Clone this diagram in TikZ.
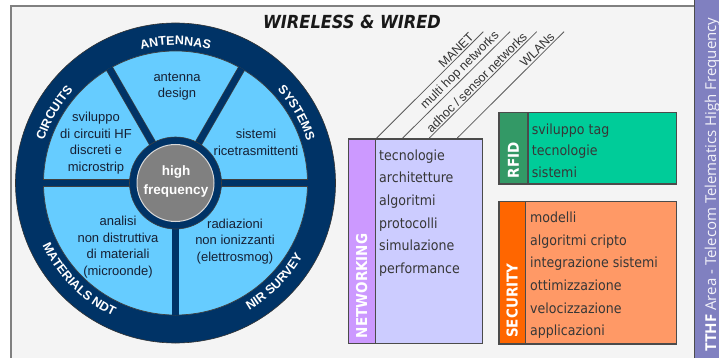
\documentclass[tikz,border=0pt]{standalone}
\usepackage{fontspec}
\setmainfont{Liberation Sans}
\newfontfamily\boxfont[FakeStretch=0.9]{DejaVu Sans}
\newfontfamily\stripfont{Open Sans}
\usetikzlibrary{decorations.text}

\definecolor{panelbg}{RGB}{244,244,244}
\definecolor{panelline}{RGB}{128,128,128}
\definecolor{navy}{RGB}{0,51,102}
\definecolor{skyfill}{RGB}{102,204,255}
\definecolor{hubgray}{RGB}{128,128,128}
\definecolor{segtext}{RGB}{22,32,52}
\definecolor{netstrip}{RGB}{204,153,255}
\definecolor{netbody}{RGB}{204,204,255}
\definecolor{rfidstrip}{RGB}{51,153,102}
\definecolor{rfidbody}{RGB}{0,204,153}
\definecolor{secstrip}{RGB}{255,102,0}
\definecolor{secbody}{RGB}{255,153,102}
\definecolor{sidebar}{RGB}{128,128,192}
\definecolor{boxline}{RGB}{75,75,75}
\definecolor{itemtext}{RGB}{55,55,55}
\definecolor{tagline}{RGB}{90,90,90}

\newcommand{\ringfont}{\color{white}\bfseries\fontsize{12.5}{13}\selectfont}

\tikzset{
  seg/.style={align=center, font=\fontsize{13}{16.5}\selectfont, text=segtext, inner sep=0pt},
  hubtext/.style={align=center, font=\bfseries\fontsize{13.5}{19}\selectfont, text=white, inner sep=0pt},
  spoke/.style={draw=black!75, line width=0.7pt, double=navy, double distance=6.2pt},
  panelbox/.style={draw=boxline, line width=1.2pt, inner sep=0pt, anchor=north west},
  sidelabel/.style={font=\boxfont\bfseries\fontsize{15}{15}\selectfont, text=white, inner sep=0pt, rotate=90, anchor=west},
  item/.style={font=\boxfont\fontsize{14}{14}\selectfont, text=itemtext, inner sep=0pt, anchor=base west},
  tagline/.style={draw=tagline, line width=0.8pt},
  taglabel/.style={font=\fontsize{12.5}{13}\selectfont, text=black!80, sloped, anchor=south east, inner sep=1.2pt},
  ringlabel/.style={decorate, decoration={text along path, text align=center, text={|\ringfont|#1}}},
}

\begin{document}
\begin{tikzpicture}[x=1pt,y=-1pt]
\useasboundingbox (0,0) rectangle (719,358);

% background panel and side bar
\fill[panelbg] (10,6) rectangle (694,358);
\draw[panelline, line width=2pt] (11,358) -- (11,6) -- (694,6);
\fill[sidebar] (694,0) rectangle (719,358);
\draw[black!70, line width=1pt] (694,0) -- (694,358);

% title
\node[font=\boxfont\bfseries\itshape\fontsize{18}{20}\selectfont, text=black!90, inner sep=0pt] (title) at (352,21.5) {WIRELESS \& WIRED};

% the wheel
\begin{scope}[shift={(175.5,183)}, y=1pt]
  \path[fill=navy, draw=black!80, line width=0.6pt] (0,0) circle[radius=160];
  \path[fill=skyfill, draw=black!75, line width=0.7pt] (0,0) circle[radius=132];
  \draw[spoke] (180:132.3) -- (0:132.3);
  \foreach \a in {60,120,270} \draw[spoke] (0,0) -- (\a:132.3);
  \path[fill=navy, draw=black!75, line width=0.6pt] (0,0) circle[radius=46];
  \path[fill=hubgray, draw=white!70!gray, line width=1pt] (0,0) circle[radius=38.5];
  % labels on the ring
  \path[ringlabel=ANTENNAS] (125:138) arc[start angle=125, end angle=55, radius=138];
  \path[ringlabel=CIRCUITS] (185:138) arc[start angle=185, end angle=115, radius=138];
  \path[ringlabel=SYSTEMS] (65:138) arc[start angle=65, end angle=-5, radius=138];
  \path[ringlabel=MATERIALS NDT] (185:147) arc[start angle=185, end angle=265, radius=147];
  \path[ringlabel=NIR SURVEY] (275:147) arc[start angle=275, end angle=355, radius=147];
\end{scope}

% wheel sector texts
\node[seg] (antenna) at (177,86.5) {antenna\\design};
\node[seg] (sistemi) at (256,142.5) {sistemi\\ricetrasmittenti};
\node[seg] (circuiti) at (96,143) {sviluppo\\di circuiti HF\\discreti e\\microstrip};
\node[seg] (analisi) at (118,247) {analisi\\non distruttiva\\di materiali\\(microonde)};
\node[seg] (radiazioni) at (235,241.5) {radiazioni\\non ionizzanti\\(elettrosmog)};
\node[hubtext] (hub) at (176,182) {high\\frequency};

% networking box
\node[panelbox, fill=netbody, minimum width=134pt, minimum height=204.5pt] (net) at (347.5,138.5) {};
\node[panelbox, fill=netstrip, minimum width=27pt, minimum height=204.5pt] (netside) at (net.north west) {};
\node[sidelabel] (netlabel) at ([yshift=6pt]netside.south) {NETWORKING};
\foreach \t [count=\i] in {tecnologie,architetture,algoritmi,protocolli,simulazione,performance}
  \node[item] (net-\i) at (379,{160.2+22.65*(\i-1)}) {\t};

% network types on slanted rules
\coordinate (b1) at (376.7,138); \coordinate (t1) at (483.3,31.7);
\coordinate (b2) at (402.7,138); \coordinate (t2) at (510,31.7);
\coordinate (b3) at (429.3,138); \coordinate (t3) at (536.7,31.7);
\coordinate (b4) at (457.3,138); \coordinate (t4) at (564,31.7);
\draw[tagline] (b1) -- node[taglabel, pos=0.94] (manet) {MANET} (t1);
\draw[tagline] (b2) -- node[taglabel, pos=0.94] (multihop) {multi hop networks} (t2);
\draw[tagline] (b3) -- node[taglabel, pos=0.94] (adhoc) {adhoc / sensor networks} (t3);
\draw[tagline] (b4) -- node[taglabel, pos=0.94] (wlans) {WLANs} (t4);

% RFID box
\node[panelbox, fill=rfidbody, minimum width=177.7pt, minimum height=71pt] (rfid) at (498.3,112.3) {};
\node[panelbox, fill=rfidstrip, minimum width=29pt, minimum height=71pt] (rfidside) at (rfid.north west) {};
\node[sidelabel] (rfidlabel) at ([yshift=6pt]rfidside.south) {RFID};
\foreach \t [count=\i] in {sviluppo tag,tecnologie,sistemi}
  \node[item] (rfid-\i) at (531.7,{134.5+21.35*(\i-1)}) {\t};

% security box
\node[panelbox, fill=secbody, minimum width=177.7pt, minimum height=142.3pt] (sec) at (498.3,201) {};
\node[panelbox, fill=secstrip, minimum width=26.7pt, minimum height=142.3pt] (secside) at (sec.north west) {};
\node[sidelabel] (seclabel) at ([yshift=6.5pt]secside.south) {SECURITY};
\foreach \t [count=\i] in {modelli,algoritmi cripto,integrazione sistemi,ottimizzazione,velocizzazione,applicazioni}
  \node[item] (sec-\i) at (530,{222.8+22.55*(\i-1)}) {\t};

% side bar caption
\node[rotate=90, anchor=base west, inner sep=0pt, font=\stripfont\fontsize{15}{15}\selectfont, text=white!90!sidebar] (caption) at (716,352)
  {\textcolor{white}{\bfseries TTHF} Area - Telecom Telematics High Frequency};
\end{tikzpicture}
\end{document}
